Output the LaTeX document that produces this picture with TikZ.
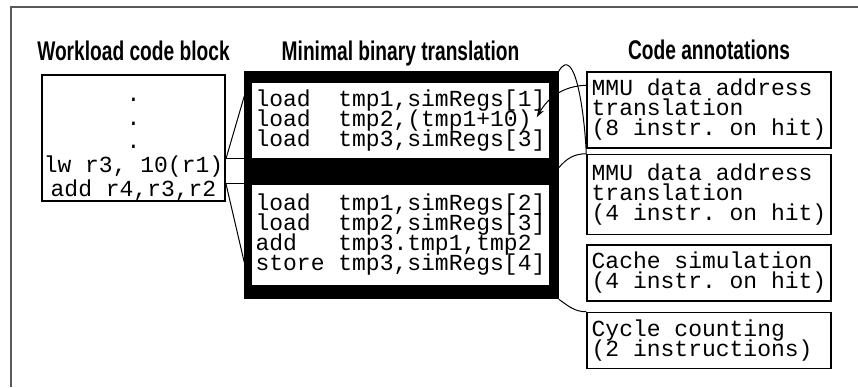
\documentclass[tikz,border=0pt]{standalone}
\usepackage{fontspec}
\newfontfamily\headfont{Liberation Sans}[FakeStretch=0.71]
\newfontfamily\codefont{Liberation Mono}
\usetikzlibrary{positioning,arrows.meta,backgrounds}

\tikzset{
  headline/.style={font={\headfont\bfseries\fontsize{13.5}{14}\selectfont},
    inner sep=0pt, text depth=0pt},
  codebox/.style={draw, line width=0.75pt, inner ysep=2pt, inner xsep=1pt,
    font={\codefont\fontsize{11.5}{10}\selectfont\frenchspacing\lineskiplimit=-5pt}},
  wlfont/.style={font={\codefont\fontsize{11.5}{11.8}\selectfont\lineskiplimit=-5pt}},
  transbox/.style={codebox, draw=none, fill=white, align=left, minimum width=148.5pt},
  annbox/.style={codebox, align=left, minimum width=122pt},
  link/.style={line width=0.5pt},
}

\begin{document}
\begin{tikzpicture}[x=0.5pt, y=0.5pt]
  \useasboundingbox (0,0) rectangle (858,387);

  % Define nodes
  \node[codebox, wlfont, align=center, inner ysep=0pt, minimum width=91.5pt, minimum height=63pt]
    (wl) at (133.5,249) {\rule{0pt}{13pt}.\\.\\.\\lw r3, 10(r1)\\add r4,r3,r2};

  \node[transbox, minimum height=37.5pt] (code1) at (400.5,266.5)
    {load~~tmp1,simRegs[1]\\load~~tmp2,(tmp1+10)\\load~~tmp3,simRegs[3]};
  \node[transbox, below=12.5pt of code1, minimum height=50pt] (code2)
    {load~~tmp1,simRegs[2]\\load~~tmp2,simRegs[3]\\add~~~tmp3.tmp1,tmp2\\store~tmp3,simRegs[4]};

  \node[annbox, minimum height=38pt] (ann1) at (709,277)
    {MMU data address\\translation\\(8 instr. on hit)};
  \node[annbox, below=2.5pt of ann1, minimum height=40pt] (ann2)
    {MMU data address\\translation\\(4 instr. on hit)};
  \node[annbox, below=4.5pt of ann2, minimum height=28pt] (ann3)
    {Cache simulation\\(4 instr. on hit)};
  \node[annbox, below=5pt of ann3, minimum height=28pt] (ann4)
    {Cycle counting\\(2 instructions)\phantom{0}};

  \node[headline, above=6.5pt of wl]    (wltitle)   {Workload code block};
  \node[headline, above=10.5pt of code1] (codetitle) {Minimal binary translation};
  \node[headline, above=5.5pt of ann1]  (anntitle)  {Code annotations};

  % Black frame round the translation
  \coordinate (bnw) at ([xshift=-3.5pt,yshift=5.5pt]code1.north west);
  \coordinate (bse) at ([xshift=4.5pt,yshift=-7pt]code2.south east);
  \coordinate (bne) at (bse |- bnw);
  \begin{scope}[on background layer]
    \fill (bnw) rectangle (bse);
    \draw[black!65, line width=0.6pt] (858,380) -- (11,380) -- (11,0);
  \end{scope}

  % Connect the nodes
  \coordinate (lwend)  at (wl.east |- code1.south);
  \coordinate (addend) at (wl.east |- code2.north);
  \coordinate (lwhi)   at ([yshift=-12.5pt]bnw);
  \coordinate (lwin)   at (bnw |- lwend);
  \coordinate (addin)  at (bnw |- addend);
  \coordinate (addlo)  at ([yshift=18.5pt]bnw |- bse);
  \draw[link] (lwend) -- (lwhi);
  \draw[link] (lwend) -- (lwin);
  \draw[link] (addend) -- (addin);
  \draw[link] (addend) -- (addlo);

  \coordinate (a1in) at ([yshift=-7pt]ann1.north west);
  \coordinate (tip)  at ([xshift=-6.5pt,yshift=-17.5pt]code1.north east);
  \coordinate (band) at ([yshift=-4.5pt]bne |- code1.south);
  \draw[link, -{Stealth[length=4.5pt,width=3pt]}] (a1in) to[out=182, in=60] (tip);
  \draw[link] (bne) to[out=60, in=92] (ann2.north west);
  \draw[link] (band) to[out=50, in=180] (ann2.north west);
  \draw[link] (bse) to[out=-35, in=180] (ann4.north west);

\end{tikzpicture}
\end{document}
